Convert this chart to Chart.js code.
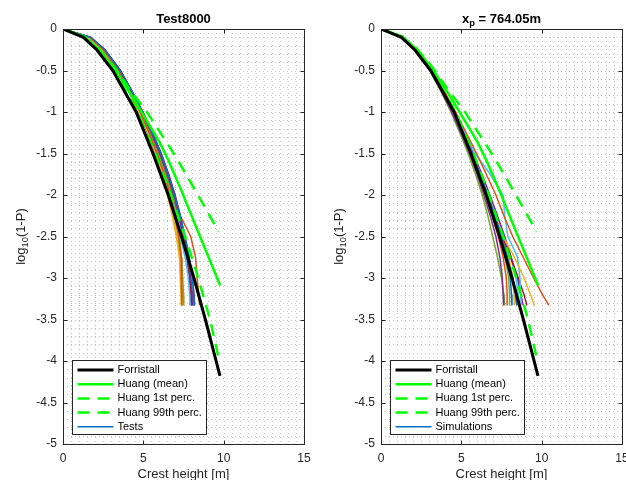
<!DOCTYPE html>
<html>
<head>
<meta charset="utf-8">
<script src="https://cdn.jsdelivr.net/npm/chart.js@4.4.0/dist/chart.umd.min.js"></script>
<style>
  html, body { margin: 0; padding: 0; background: #fff; overflow: hidden; }
  #wrap { position: relative; width: 626px; height: 480px; overflow: hidden; }
  .panel { position: absolute; top: 0; width: 318px; height: 480px; }
  #left { left: 0; }
  #right { left: 318px; }
</style>
</head>
<body>
<div id="wrap">
  <div class="panel" id="left"><canvas id="chartLeft" width="318" height="480"></canvas></div>
  <div class="panel" id="right"><canvas id="chartRight" width="318" height="480"></canvas></div>
</div>
<script>
// theoretical curves (same in both panels)
const forristallX = [0, 1.27, 2.1, 3.1, 4.55, 5.6, 6.55, 7.38, 8.15, 8.86, 9.77];
const forristallY = [0, -0.1, -0.25, -0.5, -1, -1.5, -2, -2.5, -3, -3.5, -4.18];

const huangMeanX = [0, 1.3, 2.2, 3.2, 4.2, 5.2, 6.0, 6.6, 7.4, 8.17, 9.0, 9.78];
const huangMeanY = [0, -0.09, -0.24, -0.48, -0.78, -1.1, -1.36, -1.6, -1.96, -2.33, -2.72, -3.09];

const huang1X = [0, 1.3, 2.15, 3.15, 4.65, 5.75, 6.72, 7.6, 8.42, 9.15, 9.7];
const huang1Y = [0, -0.1, -0.25, -0.5, -1, -1.5, -2, -2.5, -3, -3.5, -3.97];

const huang99X = [0, 1.3, 2.2, 3.2, 4.2, 5.19, 6.2, 7.15, 8.4, 9.68];
const huang99Y = [0, -0.09, -0.23, -0.46, -0.74, -0.99, -1.29, -1.58, -2.0, -2.44];

// measured curves: crest height at each log10(1-P) level
const levels = [0, -0.1, -0.25, -0.5, -0.75, -1, -1.25, -1.5, -1.75, -2, -2.25, -2.5, -2.75, -3, -3.2, -3.33];

const testsLeft = [
  [0, 1.75, 2.6, 3.55, 4.3, 4.95, 5.55, 6.1, 6.55, 6.95, 7.3, 7.6, 7.85, 8.05, 8.15, 8.2],
  [0, 1.65, 2.5, 3.45, 4.15, 4.8, 5.35, 5.85, 6.3, 6.65, 6.95, 7.2, 7.35, 7.38, 7.4, 7.4],
  [0, 1.6, 2.45, 3.4, 4.1, 4.72, 5.28, 5.78, 6.2, 6.55, 6.85, 7.1, 7.25, 7.3, 7.34, 7.35],
  [0, 1.7, 2.58, 3.52, 4.25, 4.9, 5.5, 6.02, 6.5, 6.9, 7.25, 7.55, 7.8, 7.95, 8.05, 8.08],
  [0, 1.66, 2.52, 3.46, 4.18, 4.82, 5.4, 5.92, 6.38, 6.75, 7.05, 7.25, 7.38, 7.45, 7.5, 7.52],
  [0, 1.62, 2.48, 3.42, 4.12, 4.75, 5.3, 5.8, 6.25, 6.62, 6.98, 7.3, 7.6, 7.8, 7.88, 7.9],
  [0, 1.72, 2.62, 3.58, 4.3, 4.98, 5.58, 6.12, 6.58, 6.98, 7.3, 7.55, 7.75, 7.9, 7.98, 8.0],
  [0, 1.6, 2.45, 3.38, 4.08, 4.7, 5.25, 5.75, 6.2, 6.6, 6.98, 7.35, 7.7, 7.92, 8.0, 8.02],
  [0, 1.68, 2.55, 3.5, 4.2, 4.85, 5.42, 5.95, 6.4, 6.8, 7.3, 7.95, 8.25, 8.35, 8.45, 8.5],
  [0, 1.62, 2.46, 3.4, 4.1, 4.72, 5.26, 5.75, 6.15, 6.5, 6.8, 7.05, 7.25, 7.35, 7.4, 7.42],
  [0, 1.68, 2.56, 3.5, 4.22, 4.88, 5.46, 5.98, 6.45, 6.85, 7.2, 7.5, 7.72, 7.88, 7.95, 7.98],
  [0, 1.64, 2.5, 3.44, 4.14, 4.78, 5.35, 5.85, 6.3, 6.68, 6.98, 7.18, 7.3, 7.36, 7.42, 7.45],
  [0, 1.66, 2.54, 3.48, 4.2, 4.85, 5.42, 5.95, 6.4, 6.8, 7.15, 7.5, 7.8, 8.0, 8.08, 8.1],
  [0, 1.7, 2.6, 3.55, 4.28, 4.95, 5.52, 6.05, 6.52, 6.92, 7.28, 7.58, 7.85, 8.05, 8.15, 8.15]
];

const testsRight = [
  [0, 1.3, 2.12, 3.12, 3.86, 4.52, 5.12, 5.68, 6.18, 6.65, 7.1, 7.5, 7.85, 8.2, 8.4, 8.45],
  [0, 1.32, 2.16, 3.2, 3.95, 4.65, 5.3, 5.95, 6.55, 7.15, 7.65, 8.2, 8.85, 9.5, 10.05, 10.45],
  [0, 1.3, 2.12, 3.12, 3.85, 4.5, 5.1, 5.65, 6.15, 6.62, 7.1, 7.6, 8.3, 8.9, 9.3, 9.55],
  [0, 1.28, 2.08, 3.05, 3.76, 4.4, 4.97, 5.5, 5.98, 6.4, 6.8, 7.15, 7.4, 7.55, 7.6, 7.63],
  [0, 1.27, 2.06, 3.02, 3.72, 4.35, 4.9, 5.42, 5.88, 6.3, 6.65, 6.95, 7.25, 7.5, 7.65, 7.7],
  [0, 1.3, 2.14, 3.15, 3.9, 4.58, 5.2, 5.85, 6.8, 7.6, 7.7, 7.9, 8.5, 8.65, 8.7, 8.72],
  [0, 1.3, 2.1, 3.1, 3.84, 4.5, 5.1, 5.65, 6.15, 6.62, 7.08, 7.55, 8.05, 8.55, 8.9, 9.08],
  [0, 1.29, 2.1, 3.1, 3.83, 4.5, 5.08, 5.62, 6.12, 6.6, 7.05, 7.45, 7.8, 8.05, 8.12, 8.15],
  [0, 1.28, 2.08, 3.08, 3.8, 4.45, 5.02, 5.55, 6.05, 6.5, 6.92, 7.3, 7.6, 7.8, 7.85, 7.85],
  [0, 1.3, 2.11, 3.11, 3.85, 4.52, 5.12, 5.68, 6.2, 6.68, 7.12, 7.55, 7.95, 8.2, 8.28, 8.3],
  [0, 1.3, 2.12, 3.14, 3.88, 4.56, 5.18, 5.75, 6.28, 6.78, 7.25, 7.7, 8.1, 8.5, 8.7, 8.85],
  [0, 1.29, 2.09, 3.09, 3.82, 4.48, 5.06, 5.6, 6.1, 6.56, 7.0, 7.4, 7.72, 7.95, 8.0, 8.0],
  [0, 1.3, 2.12, 3.13, 3.88, 4.55, 5.15, 5.72, 6.25, 6.75, 7.22, 7.68, 8.1, 8.4, 8.55, 8.6],
  [0, 1.29, 2.1, 3.1, 3.84, 4.5, 5.1, 5.65, 6.16, 6.64, 7.1, 7.52, 7.9, 8.2, 8.38, 8.45]
];

const testColors = ["#0072BD", "#D95319", "#EDB120", "#7E2F8E", "#77AC30", "#4DBEEE", "#A2142F"];

const xTicks = [0, 5, 10, 15];
const FONT = "'Liberation Sans', Arial, Helvetica, sans-serif";

const toPoints = (xs, ys) => xs.map((x, i) => ({ x: x, y: ys[i] }));

// text made of normal and subscript pieces, centred on cx
function drawParts(ctx, parts, size, bold, cx, baseY) {
    const w = (p) => {
        ctx.font = (bold ? "bold " : "") + (p.sub ? size * 0.72 : size) + "px " + FONT;
        return ctx.measureText(p.t).width;
    };
    const total = parts.reduce((s, p) => s + w(p), 0);
    let x = cx - total / 2;
    parts.forEach((p) => {
        const pw = w(p);
        ctx.fillText(p.t, x, baseY + (p.sub ? size * 0.3 : 0));
        x += pw;
    });
}

const frame = {
    id: "frame",
    beforeDatasetsDraw(chart) {
        const { ctx, chartArea: a, scales } = chart;
        ctx.save();
        ctx.strokeStyle = "#c2c2c2";
        ctx.lineWidth = 1;
        ctx.setLineDash([1, 3]);
        ctx.beginPath();
        for (let i = 0; i <= 30; i++) {
            const px = Math.round(scales.x.getPixelForValue(i * 0.5)) + 0.5;
            ctx.moveTo(px, a.top);
            ctx.lineTo(px, a.bottom);
        }
        for (let i = 0; i <= 50; i++) {
            const py = Math.round(scales.y.getPixelForValue(-i * 0.1)) + 0.5;
            ctx.moveTo(a.left, py);
            ctx.lineTo(a.right, py);
        }
        ctx.stroke();
        ctx.restore();
    },
    afterDatasetsDraw(chart) {
        const { ctx, chartArea: a, scales } = chart;
        const o = chart.options.plugins.frame;
        ctx.save();
        ctx.strokeStyle = "#262626";
        ctx.lineWidth = 1;
        ctx.setLineDash([]);
        const L = Math.round(a.left) + 0.5, R = Math.round(a.right) + 0.5;
        const T = Math.round(a.top) + 0.5, B = Math.round(a.bottom) + 0.5;
        ctx.strokeRect(L, T, R - L, B - T);
        ctx.beginPath();
        xTicks.forEach((v) => {
            const px = Math.round(scales.x.getPixelForValue(v)) + 0.5;
            ctx.moveTo(px, B); ctx.lineTo(px, B - 4);
            ctx.moveTo(px, T); ctx.lineTo(px, T + 4);
        });
        for (let i = 0; i <= 10; i++) {
            const py = Math.round(scales.y.getPixelForValue(-i * 0.5)) + 0.5;
            ctx.moveTo(L, py); ctx.lineTo(L + 4, py);
            ctx.moveTo(R, py); ctx.lineTo(R - 4, py);
        }
        ctx.stroke();

        // legend box
        const bx = Math.round(a.left + 9) + 0.5, bw = 134, bh = 74;
        const by = Math.round(a.bottom - 10 - bh) + 0.5;
        ctx.fillStyle = "#fff";
        ctx.fillRect(bx, by, bw, bh);
        ctx.strokeStyle = "#262626";
        ctx.strokeRect(bx, by, bw, bh);
        const ds = chart.data.datasets;
        ctx.font = "11px " + FONT;
        ctx.textBaseline = "middle";
        for (let i = 0; i < 5; i++) {
            const d = ds[i];
            const ry = by + 9.5 + i * 14.2;
            ctx.strokeStyle = d.borderColor;
            ctx.lineWidth = d.borderWidth;
            ctx.setLineDash(d.borderDash || []);
            ctx.beginPath();
            ctx.moveTo(bx + 5, ry);
            ctx.lineTo(bx + 41, ry);
            ctx.stroke();
            ctx.fillStyle = "#000";
            ctx.fillText(i === 4 ? o.lastLabel : d.label, bx + 45, ry);
        }
        ctx.restore();
    },
    afterDraw(chart) {
        const { ctx, chartArea: a } = chart;
        const o = chart.options.plugins.frame;
        const cx = (a.left + a.right) / 2;
        ctx.save();
        ctx.fillStyle = "#000";
        ctx.textAlign = "left";
        ctx.textBaseline = "alphabetic";
        drawParts(ctx, o.title, 13, true, cx, 22.5);
        ctx.fillStyle = "#262626";
        ctx.font = "13px " + FONT;
        ctx.textAlign = "center";
        ctx.fillText("Crest height [m]", cx, 478);
        ctx.textAlign = "left";
        ctx.translate(24.5, (a.top + a.bottom) / 2);
        ctx.rotate(-Math.PI / 2);
        drawParts(ctx, [{ t: "log" }, { t: "10", sub: true }, { t: "(1-P)" }], 13, false, 0, 0);
        ctx.restore();
    }
};

function makeChart(id, tests, title, lastLabel) {
    const datasets = [
        { label: "Forristall", data: toPoints(forristallX, forristallY), borderColor: "#000000", borderWidth: 3 },
        { label: "Huang (mean)", data: toPoints(huangMeanX, huangMeanY), borderColor: "#00FF00", borderWidth: 2.5 },
        { label: "Huang 1st perc.", data: toPoints(huang1X, huang1Y), borderColor: "#00FF00", borderWidth: 2.5, borderDash: [12, 8] },
        { label: "Huang 99th perc.", data: toPoints(huang99X, huang99Y), borderColor: "#00FF00", borderWidth: 2.5, borderDash: [12, 8] }
    ];
    tests.forEach((xs, i) => {
        datasets.push({
            label: lastLabel,
            data: toPoints(xs, levels),
            borderColor: testColors[i % testColors.length],
            borderWidth: 1.5
        });
    });
    datasets.forEach((d) => {
        d.showLine = true;
        d.pointRadius = 0;
        d.tension = 0;
        d.fill = false;
    });

    return new Chart(document.getElementById(id), {
        type: "scatter",
        data: { datasets: datasets },
        options: {
            responsive: false,
            animation: false,
            events: [],
            layout: { padding: { top: 29, right: 14, bottom: 0, left: 0 } },
            plugins: {
                legend: { display: false },
                tooltip: { enabled: false },
                frame: { title: title, lastLabel: lastLabel }
            },
            scales: {
                x: {
                    type: "linear",
                    min: 0,
                    max: 15,
                    grid: { display: false, drawTicks: false },
                    border: { display: false },
                    ticks: {
                        stepSize: 5,
                        maxRotation: 0,
                        padding: 7,
                        color: "#262626",
                        font: { family: FONT, size: 12 }
                    },
                    afterFit(s) { s.height = 36; }
                },
                y: {
                    type: "linear",
                    min: -5,
                    max: 0,
                    grid: { display: false, drawTicks: false },
                    border: { display: false },
                    ticks: {
                        stepSize: 0.5,
                        autoSkip: false,
                        padding: 6,
                        color: "#262626",
                        font: { family: FONT, size: 12 },
                        callback: (v) => String(Number(v.toFixed(1)))
                    },
                    afterFit(s) { s.width = 63; }
                }
            }
        },
        plugins: [frame]
    });
}

makeChart("chartLeft", testsLeft, [{ t: "Test8000" }], "Tests");
makeChart("chartRight", testsRight, [{ t: "x" }, { t: "p", sub: true }, { t: " = 764.05m" }], "Simulations");
</script>
</body>
</html>
